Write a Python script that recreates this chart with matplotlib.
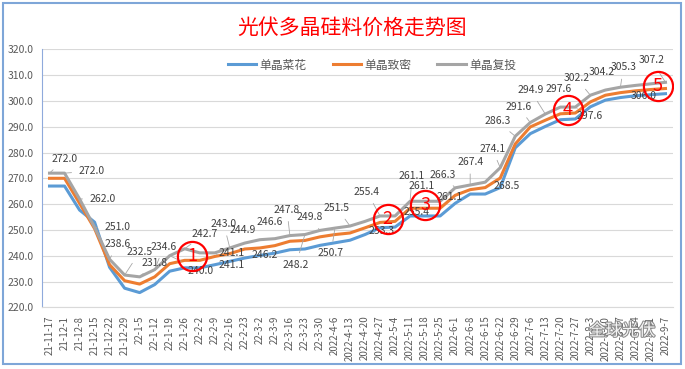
import matplotlib
matplotlib.use('Agg')
import matplotlib.pyplot as plt
import matplotlib.patheffects as pe
from matplotlib.patches import Rectangle
import numpy as np

plt.rcParams['font.family'] = ['Noto Sans CJK SC', 'DejaVu Sans']

dates = ['21-11-17', '21-12-1', '21-12-8', '21-12-15', '21-12-22', '21-12-29',
         '22-1-5', '22-1-12', '22-1-19', '22-1-26', '22-2-2', '22-2-9', '22-2-16',
         '22-2-23', '22-3-2', '22-3-9', '22-3-16', '22-3-23', '22-3-30',
         '2022-4-6', '2022-4-13', '2022-4-20', '2022-4-27', '2022-5-4',
         '2022-5-11', '2022-5-18', '2022-5-25', '2022-6-1', '2022-6-8',
         '2022-6-15', '2022-6-22', '2022-6-29', '2022-7-6', '2022-7-13',
         '2022-7-20', '2022-7-27', '2022-8-3', '2022-8-10', '2022-8-17',
         '2022-8-24', '2022-8-31', '2022-9-7']

# 单晶菜花 (blue), 单晶致密 (orange), 单晶复投 (gray, labelled)
caihua = [267.0, 267.0, 257.7, 253.0, 235.5, 227.4, 225.7, 228.8, 234.0, 235.3,
          235.3, 236.5, 237.8, 239.1, 240.1, 241.0, 242.3, 242.6, 244.0, 245.0,
          246.0, 248.2, 250.8, 251.1, 255.4, 255.4, 255.4, 260.3, 263.9, 263.9,
          266.4, 281.8, 287.3, 290.1, 292.7, 293.0, 297.7, 300.3, 301.3, 302.0,
          302.4, 302.8]
zhimi = [270.0, 270.0, 260.3, 250.5, 236.5, 230.3, 229.0, 231.8, 236.9, 238.2,
         238.2, 239.7, 240.8, 242.6, 243.0, 243.9, 245.6, 245.9, 247.3, 248.2,
         248.8, 250.8, 252.9, 253.3, 258.4, 258.4, 258.4, 263.4, 265.6, 266.4,
         270.1, 283.3, 289.9, 292.5, 295.0, 295.3, 299.6, 302.2, 303.2, 303.9,
         304.4, 304.8]
futou = [272.0, 272.0, 262.0, 251.0, 238.6, 232.5, 231.8, 234.6, 240.0, 242.7,
         241.1, 241.1, 243.0, 244.9, 246.2, 246.6, 247.8, 248.2, 249.8, 250.7,
         251.5, 253.3, 255.4, 255.4, 261.1, 261.1, 261.1, 266.3, 267.4, 268.5,
         274.1, 286.3, 291.6, 294.9, 297.6, 297.6, 302.2, 304.2, 305.3, 306.0,
         306.6, 307.2]

# where the red circles sit (category position) and their numbers
marks = [(9.5, '1'), (22.5, '2'), (25.0, '3'), (34.5, '4'), (40.5, '5')]

# hand-moved data label offsets in pixels (None = label not shown)
offs = [(15, 14), (27, 2), (23, 0), (23, 0), (8, 15), (15, 23), (15, 14), (9, 23),
        (31, -15), (20, 15), (32, 0), (17, -12), (-6, 24), (-2, 13), (5, -15),
        (-5, 17), (-3, 26), (-9, -30), (-10, 13), (-4, -25), (-13, 18), (17, -10),
        (-13, 24), (22, 4), (2, 25), (-3, 15), (9, 4), (-12, 13), (0, 23), (21, -4),
        (-8, 19), (-18, 15), (-12, 16), (-15, 24), (-2, 18), (14, -9), (-14, 17),
        (-4, 18), (3, 20), (8, -11), None, (-14, 22)]

fig = plt.figure(figsize=(6.85, 3.69), dpi=100)
ax = fig.add_axes([42 / 685, 1 - 307.3 / 369, 631 / 685, 258 / 369])

x = np.arange(len(dates))
ax.plot(x, caihua, color='#5B9BD5', lw=2.2, label='单晶菜花', zorder=3)
ax.plot(x, zhimi, color='#ED7D31', lw=2.2, label='单晶致密', zorder=3)
ax.plot(x, futou, color='#A5A5A5', lw=2.2, label='单晶复投', zorder=3)

for i, v in enumerate(futou):
    if offs[i] is None:
        continue
    dx, dy = offs[i]
    far = abs(dx) + abs(dy) > 22
    ax.annotate('%.1f' % v, (i, v), xytext=(dx, dy), textcoords='offset pixels',
                ha='center', va='center', fontsize=7.5, color='#404040', zorder=5,
                arrowprops=dict(arrowstyle='-', color='#A6A6A6', lw=0.6,
                                shrinkA=3, shrinkB=1) if far else None)

for pos, num in marks:
    yv = (np.interp(pos, x, zhimi) + np.interp(pos, x, futou)) / 2
    ax.plot([pos], [yv], 'o', ms=21, mfc='none', mec='#FF0000', mew=1.6, zorder=6)
    ax.text(pos, yv, num, color='#FF0000', fontsize=13, ha='center', va='center', zorder=7)

ax.set_xlim(-0.5, len(dates) - 0.5)
ax.set_ylim(220, 320)
ax.set_yticks(np.arange(220, 321, 10))
ax.set_yticklabels(['%.1f' % t for t in np.arange(220, 321, 10)])
ax.set_xticks(x)
ax.set_xticklabels(dates, rotation=90)
ax.tick_params(axis='y', labelsize=7.5, labelcolor='#595959', length=0, pad=6)
ax.tick_params(axis='x', labelsize=7, labelcolor='#595959', length=0, pad=6)
ax.grid(axis='y', color='#D9D9D9', lw=0.8)
ax.set_axisbelow(True)
for s in ['top', 'right']:
    ax.spines[s].set_visible(False)
ax.spines['left'].set_color('#8FAADC')
ax.spines['bottom'].set_color('#D9D9D9')

leg = ax.legend(loc='center', bbox_to_anchor=(0.523, 0.939), ncol=3, frameon=False,
                fontsize=8.5, handlelength=2.4, columnspacing=2.2, handletextpad=0.3)
for t in leg.get_texts():
    t.set_color('#595959')

fig.text(352 / 685, 1 - 28 / 369, '光伏多晶硅料价格走势图', color='#FF0000',
         fontsize=15, ha='center', va='center')

fig.text(622 / 685, 1 - 331 / 369, '全球光伏', color='white', fontsize=12,
         ha='center', va='center', alpha=0.9,
         path_effects=[pe.withStroke(linewidth=1.5, foreground='#7F7F7F')])

fig.patches.append(Rectangle((3 / 685, 5 / 369), 678 / 685, 361 / 369,
                             transform=fig.transFigure, fill=False,
                             edgecolor='#7EA6D8', lw=1.5))

fig.savefig('out.png', dpi=100)
